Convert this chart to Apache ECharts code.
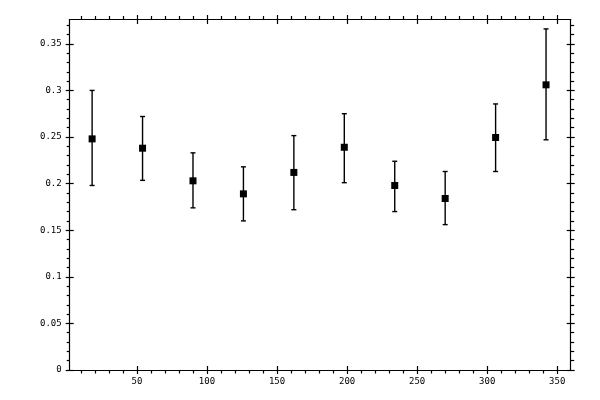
<!DOCTYPE html>
<html>
<head>
<meta charset="utf-8">
<script src="https://cdn.jsdelivr.net/npm/echarts@6/dist/echarts.min.js"></script>
<style>
  html, body { margin: 0; padding: 0; background: #fff; }
  #chart { width: 600px; height: 400px; }
</style>
</head>
<body>
<div id="chart"></div>
<script>
// angle bins (x) and measured values with error-bar ends
const angles = [18, 54, 90, 126, 162, 198, 234, 270, 306, 342];
const values = [0.248, 0.238, 0.203, 0.189, 0.212, 0.239, 0.198, 0.184, 0.2495, 0.306];
const lows   = [0.198, 0.2035, 0.174, 0.160, 0.172, 0.201, 0.170, 0.156, 0.213, 0.247];
const highs  = [0.300, 0.272, 0.233, 0.218, 0.2515, 0.275, 0.224, 0.213, 0.2855, 0.366];

// tick positions
const xMajor = [50, 100, 150, 200, 250, 300, 350];
const xMinor = [10, 20, 30, 40, 60, 70, 80, 90, 110, 120, 130, 140, 160, 170, 180, 190,
                210, 220, 230, 240, 260, 270, 280, 290, 310, 320, 330, 340];
const yMajor = [0, 0.05, 0.1, 0.15, 0.2, 0.25, 0.3, 0.35];
const yMinor = [0.01, 0.02, 0.03, 0.04, 0.06, 0.07, 0.08, 0.09, 0.11, 0.12, 0.13, 0.14,
                0.16, 0.17, 0.18, 0.19, 0.21, 0.22, 0.23, 0.24, 0.26, 0.27, 0.28, 0.29,
                0.31, 0.32, 0.33, 0.34, 0.36, 0.37];

const X_MIN = 2, X_MAX = 359.6;
const Y_MIN = 0, Y_MAX = 0.3761;
const FONT = 'DejaVu Sans Mono';

function xAxisDef(position, ticks, inside, len, withLine, withLabel) {
    return {
        type: 'value', position: position, min: X_MIN, max: X_MAX,
        axisLine: { show: withLine, onZero: false, lineStyle: { color: '#000', width: 1.2 } },
        axisTick: { show: true, customValues: ticks, inside: inside, length: len,
                    lineStyle: { color: '#000', width: 1.2 } },
        axisLabel: withLabel
            ? { show: true, customValues: ticks, color: '#000', fontFamily: FONT, fontSize: 9, margin: 7 }
            : { show: false },
        splitLine: { show: false }
    };
}

function yAxisDef(position, ticks, inside, len, withLine, withLabel) {
    return {
        type: 'value', position: position, min: Y_MIN, max: Y_MAX,
        axisLine: { show: withLine, onZero: false, lineStyle: { color: '#000', width: 1.2 } },
        axisTick: { show: true, customValues: ticks, inside: inside, length: len,
                    lineStyle: { color: '#000', width: 1.2 } },
        axisLabel: withLabel
            ? { show: true, customValues: ticks, color: '#000', fontFamily: FONT, fontSize: 9, margin: 8,
                formatter: v => String(Math.round(v * 100) / 100) }
            : { show: false },
        splitLine: { show: false }
    };
}

const chart = echarts.init(document.getElementById('chart'));

const errData = angles.map((a, i) => [a, lows[i], highs[i]]);
const ptData = angles.map((a, i) => [a, values[i]]);

function renderErr(params, api) {
    const x = api.value(0);
    const top = api.coord([x, api.value(2)]);
    const bot = api.coord([x, api.value(1)]);
    const w = 2.5;
    const st = { stroke: '#000', lineWidth: 1.4 };
    return {
        type: 'group',
        children: [
            { type: 'line', shape: { x1: top[0], y1: top[1], x2: bot[0], y2: bot[1] }, style: st },
            { type: 'line', shape: { x1: top[0] - w, y1: top[1], x2: top[0] + w, y2: top[1] }, style: st },
            { type: 'line', shape: { x1: bot[0] - w, y1: bot[1], x2: bot[0] + w, y2: bot[1] }, style: st }
        ]
    };
}

chart.setOption({
    animation: false,
    backgroundColor: '#fff',
    grid: { left: 69.7, right: 29.3, top: 19.5, bottom: 30, containLabel: false },
    xAxis: [
        xAxisDef('bottom', xMajor, false, 4, true, true),
        xAxisDef('bottom', xMajor, true, 4, false, false),
        xAxisDef('bottom', xMinor, false, 3.5, false, false),
        xAxisDef('top', xMajor, false, 4.5, true, false),
        xAxisDef('top', xMajor, true, 4.5, false, false),
        xAxisDef('top', xMinor, false, 3.5, false, false)
    ],
    yAxis: [
        yAxisDef('left', yMajor, false, 4, true, true),
        yAxisDef('left', yMajor, true, 4, false, false),
        yAxisDef('left', yMinor, false, 3, false, false),
        yAxisDef('right', yMajor, false, 4, true, false),
        yAxisDef('right', yMajor, true, 4, false, false),
        yAxisDef('right', yMinor, false, 3.5, false, false)
    ],
    series: [
        {
            type: 'custom', xAxisIndex: 0, yAxisIndex: 0,
            renderItem: renderErr, data: errData, z: 2
        },
        {
            type: 'scatter', xAxisIndex: 0, yAxisIndex: 0,
            symbol: 'rect', symbolSize: 7,
            itemStyle: { color: '#000', opacity: 1 },
            data: ptData, z: 3
        }
    ]
});
</script>
</body>
</html>
